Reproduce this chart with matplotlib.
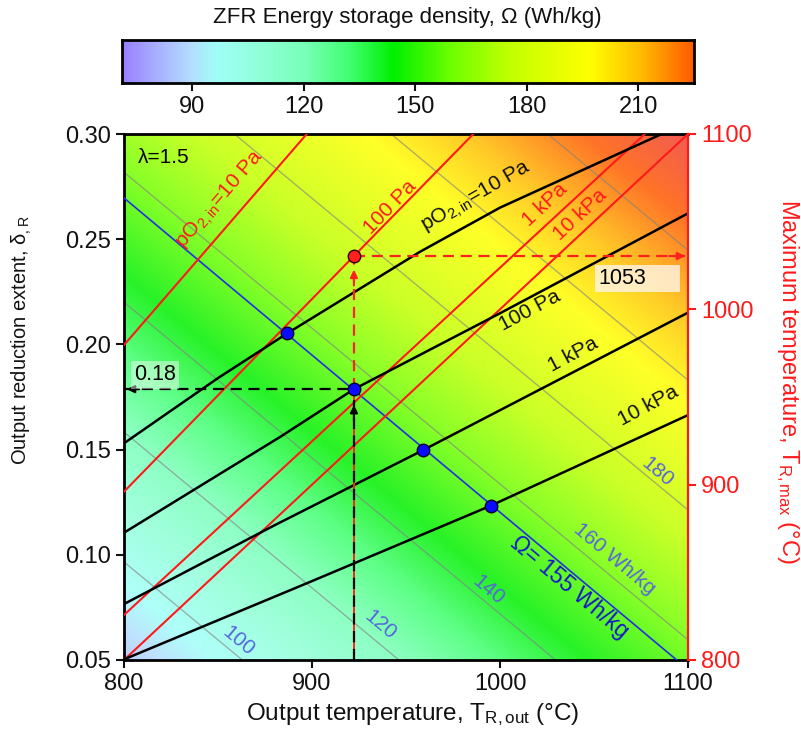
import numpy as np
import matplotlib
matplotlib.use('Agg')
import matplotlib.pyplot as plt
from matplotlib.colors import LinearSegmentedColormap, Normalize

plt.rcParams['font.family'] = ['Liberation Sans', 'DejaVu Sans']
plt.rcParams['mathtext.fontset'] = 'custom'
plt.rcParams['mathtext.rm'] = 'Liberation Sans'
plt.rcParams['mathtext.it'] = 'Liberation Sans:italic'

# ---------------- data ----------------
T_edges = [800, 1100]
delta_edges = [0.05, 0.30]
omega_corners = [[84.9, 156.9], [165.9, 237.9]]   # rows: delta low/high, cols: T low/high
omega_levels = [100, 120, 140, 160, 180, 200, 220]
cbar_ticks = [90, 120, 150, 180, 210]
cmap_values = [71, 80, 89, 96, 108, 120, 132, 144, 160, 175, 197, 210, 225, 240]
cmap_colors = ['#9a80ff', '#a8b0ff', '#b4dcff', '#a0fff8', '#90ffd8', '#78ffb8',
               '#40ff70', '#00f000', '#70ff00', '#c0ff00', '#ffff00', '#ffc000',
               '#ff5a00', '#ee3a3a']

# black curves: delta vs T at fixed pO2,in
blk_10Pa_T = [800, 850, 886.9, 957.4, 1000, 1086]
blk_10Pa_d = [0.153, 0.184, 0.2053, 0.244, 0.265, 0.300]
blk_100Pa_T = [800, 883, 922.3, 1000, 1100]
blk_100Pa_d = [0.1105, 0.156, 0.1787, 0.2148, 0.2623]
blk_1kPa_T = [800, 880, 959.2, 1100]
blk_1kPa_d = [0.0766, 0.114, 0.1498, 0.2151]
blk_10kPa_T = [800, 900, 995, 1100]
blk_10kPa_d = [0.0503, 0.0875, 0.1233, 0.1664]

# red lines (T_R,max relations)
red_10Pa_T = [800, 897.2]
red_10Pa_d = [0.1997, 0.300]
red_100Pa_T = [800, 922.3, 985.8]
red_100Pa_d = [0.130, 0.242, 0.300]
red_1kPa_T = [800, 1077]
red_1kPa_d = [0.0714, 0.300]
red_10kPa_T = [800, 1100]
red_10kPa_d = [0.050, 0.300]

# Omega = 155 Wh/kg line
blue_T = [800, 1094]
blue_d = [0.2696, 0.050]

# intersection points
dot_T = [886.9, 922.3, 959.2, 995.0]
dot_d = [0.2053, 0.1787, 0.1498, 0.1233]
red_dot_T = 922.3
red_dot_d = 0.242
read_delta = 0.18
read_Tmax = 1053

# ---------------- figure ----------------
fig = plt.figure(figsize=(8.01, 7.35), dpi=100)
ax = fig.add_axes([124/801, 75/735, 564/801, 526/735])

cmap = LinearSegmentedColormap.from_list(
    'zfr', [((v - cmap_values[0]) / (cmap_values[-1] - cmap_values[0]), c)
            for v, c in zip(cmap_values, cmap_colors)])
norm = Normalize(vmin=cmap_values[0], vmax=cmap_values[-1])

Tg = np.linspace(T_edges[0], T_edges[1], 301)
dg = np.linspace(delta_edges[0], delta_edges[1], 251)
U, V = np.meshgrid((Tg - T_edges[0]) / (T_edges[1] - T_edges[0]),
                   (dg - delta_edges[0]) / (delta_edges[1] - delta_edges[0]))
c = np.array(omega_corners)
Z = c[0, 0]*(1-U)*(1-V) + c[0, 1]*U*(1-V) + c[1, 0]*(1-U)*V + c[1, 1]*U*V

ax.imshow(Z, extent=[T_edges[0], T_edges[1], delta_edges[0], delta_edges[1]],
          origin='lower', aspect='auto', cmap=cmap, norm=norm,
          interpolation='bilinear', alpha=0.85, zorder=0)
ax.contour(Tg, dg, Z, levels=omega_levels, colors='#808080', linewidths=1.0,
           alpha=0.6, zorder=1)

# blue line
ax.plot(blue_T, blue_d, color='#2233dd', lw=1.2, zorder=3)

# red lines
for xs, ys in [(red_10Pa_T, red_10Pa_d), (red_100Pa_T, red_100Pa_d),
               (red_1kPa_T, red_1kPa_d), (red_10kPa_T, red_10kPa_d)]:
    ax.plot(xs, ys, color='#ff1a1a', lw=1.5, zorder=3)

# black curves
for xs, ys in [(blk_10Pa_T, blk_10Pa_d), (blk_100Pa_T, blk_100Pa_d),
               (blk_1kPa_T, blk_1kPa_d), (blk_10kPa_T, blk_10kPa_d)]:
    ax.plot(xs, ys, color='black', lw=1.8, zorder=4)

# dashed guides
ax.plot([red_dot_T, red_dot_T], [0.05, dot_d[1]], color='#ff2020', lw=1.4, zorder=4)
ax.plot([red_dot_T, red_dot_T], [0.05, dot_d[1]], color='black', lw=1.6,
        dashes=(5, 3), zorder=5)
ax.plot([red_dot_T, red_dot_T], [dot_d[1], red_dot_d], color='#ff2020', lw=1.6,
        dashes=(5, 3), zorder=5)
ax.plot([800, dot_T[1]], [dot_d[1], dot_d[1]], color='black', lw=1.6,
        dashes=(5, 3), zorder=5)
ax.plot([red_dot_T, 1100], [red_dot_d, red_dot_d], color='#ff2020', lw=1.6,
        dashes=(5, 3), zorder=5)

arrow_kw = dict(arrowstyle='-|>', lw=1.5, mutation_scale=11, shrinkA=0, shrinkB=0)
ax.annotate('', xy=(red_dot_T, dot_d[1] - 0.0075), xytext=(red_dot_T, dot_d[1] - 0.015),
            arrowprops=dict(color='black', **arrow_kw), zorder=6)
ax.annotate('', xy=(red_dot_T, red_dot_d - 0.0065), xytext=(red_dot_T, red_dot_d - 0.014),
            arrowprops=dict(color='#ff2020', **arrow_kw), zorder=6)
ax.annotate('', xy=(801.5, dot_d[1]), xytext=(808, dot_d[1]),
            arrowprops=dict(color='black', **arrow_kw), zorder=6)
ax.annotate('', xy=(1098.5, red_dot_d), xytext=(1090, red_dot_d),
            arrowprops=dict(color='#ff2020', **arrow_kw), zorder=6)

# dots
ax.plot(dot_T, dot_d, 'o', ms=9, mfc='#0a0aff', mec='#00002a', mew=1.0, zorder=7)
ax.plot([red_dot_T], [red_dot_d], 'o', ms=9, mfc='#ff2020', mec='#300000', mew=1.0, zorder=7)

# labels on lines
red_c = '#ff1a1a'
ax.text(851.6, 0.2686, r'pO$_{\mathrm{2,in}}$=10 Pa', color=red_c, fontsize=15,
        rotation=49, ha='center', va='center', rotation_mode='anchor', zorder=8)
ax.text(941.5, 0.2653, '100 Pa', color=red_c, fontsize=15, rotation=46,
        ha='center', va='center', rotation_mode='anchor', zorder=8)
ax.text(1024, 0.2663, '1 kPa', color=red_c, fontsize=15, rotation=43,
        ha='center', va='center', rotation_mode='anchor', zorder=8)
ax.text(1042.6, 0.2615, '10 kPa', color=red_c, fontsize=15, rotation=43,
        ha='center', va='center', rotation_mode='anchor', zorder=8)

ax.text(987.8, 0.2700, r'pO$_{\mathrm{2,in}}$=10 Pa', color='#111111', fontsize=15,
        rotation=30, ha='center', va='center', rotation_mode='anchor', zorder=8)
ax.text(1016, 0.2159, '100 Pa', color='#111111', fontsize=15, rotation=28,
        ha='center', va='center', rotation_mode='anchor', zorder=8)
ax.text(1038.8, 0.195, '1 kPa', color='#111111', fontsize=15, rotation=28,
        ha='center', va='center', rotation_mode='anchor', zorder=8)
ax.text(1079, 0.1707, '10 kPa', color='#111111', fontsize=15, rotation=28,
        ha='center', va='center', rotation_mode='anchor', zorder=8)

gray_c = '#5566dd'
for (tx, ty, s) in [(861, 0.059, '100'), (936.2, 0.0666, '120'), (994, 0.0833, '140'),
                    (1061, 0.098, '160 Wh/kg'), (1083.5, 0.1394, '180')]:
    ax.text(tx, ty, s, color=gray_c, fontsize=15, rotation=-40,
            ha='center', va='center', rotation_mode='anchor', zorder=8)
ax.text(1037, 0.0847, 'Ω= 155 Wh/kg', color='#1418c8', fontsize=16.5, rotation=-40,
        ha='center', va='center', rotation_mode='anchor', zorder=8)

ax.text(807.5, 0.289, 'λ=1.5', color='black', fontsize=15, ha='left', va='center', zorder=8)
ax.text(816.5, 0.1855, f'{read_delta:.2f}', color='black', fontsize=15.5, ha='center',
        va='center', zorder=8,
        bbox=dict(boxstyle='square,pad=0.15', fc='white', ec='none', alpha=0.45))
ax.text(1052.5, 0.2311, f'{read_Tmax}', color='black', fontsize=15.5, ha='left',
        va='center', zorder=8)
ax.axvspan(1050.5, 1095.7, ymin=(0.2249 - 0.05) / 0.25, ymax=(0.2377 - 0.05) / 0.25,
           facecolor='#fff4e8', edgecolor='none', alpha=0.8, zorder=7.5)

# axes formatting
ax.set_xlim(800, 1100)
ax.set_ylim(0.05, 0.30)
ax.set_xticks([800, 900, 1000, 1100])
ax.set_yticks([0.05, 0.10, 0.15, 0.20, 0.25, 0.30])
ax.set_yticklabels([f'{v:.2f}' for v in [0.05, 0.10, 0.15, 0.20, 0.25, 0.30]])
ax.tick_params(axis='both', direction='out', length=6, width=1.5, labelsize=17,
               colors='#111111')
for s in ['left', 'bottom', 'top']:
    ax.spines[s].set_linewidth(2)
    ax.spines[s].set_color('black')
ax.spines['right'].set_visible(False)

ax2 = ax.twinx()
ax2.set_ylim(800, 1100)
ax2.set_yticks([800, 900, 1000, 1100])
ax2.tick_params(axis='y', direction='out', length=6, width=1.5, labelsize=17,
                colors='#ff1a1a')
ax2.spines['right'].set_color('#ff1a1a')
ax2.spines['right'].set_linewidth(1.6)
for s in ['left', 'bottom', 'top']:
    ax2.spines[s].set_visible(False)

fig.text(22/801, 1 - 340/735, r'Output reduction extent, δ$_{\mathrm{,R}}$', rotation=90,
         ha='center', va='center', fontsize=14.5, color='#111111')
fig.text(413/801, 1 - 715/735, r'Output temperature, T$_{\mathrm{R,out}}$ (°C)',
         ha='center', va='center', fontsize=17.5, color='#111111')
fig.text(787/801, 1 - 381/735, r'Maximum temperature, T$_{\mathrm{R,max}}$ (°C)',
         rotation=-90, ha='center', va='center', fontsize=17, color='#ff1a1a')

# colorbar
cax = fig.add_axes([121.7/801, 1 - 82.7/735, 572.3/801, 42.7/735])
grad = np.linspace(cmap_values[0], 225, 512)[None, :]
cax.imshow(grad, extent=[cmap_values[0], 225, 0, 1], aspect='auto', cmap=cmap,
           norm=norm, interpolation='bilinear')
cax.set_xlim(cmap_values[0], 225)
cax.set_yticks([])
cax.set_xticks(cbar_ticks)
cax.tick_params(axis='x', direction='out', length=6, width=1.5, labelsize=17,
                colors='#111111')
for s in cax.spines.values():
    s.set_linewidth(2)
fig.text(407/801, 1 - 17/735, 'ZFR Energy storage density, Ω (Wh/kg)', ha='center',
         va='center', fontsize=16, color='#111111')

fig.savefig('out.png', dpi=100)
